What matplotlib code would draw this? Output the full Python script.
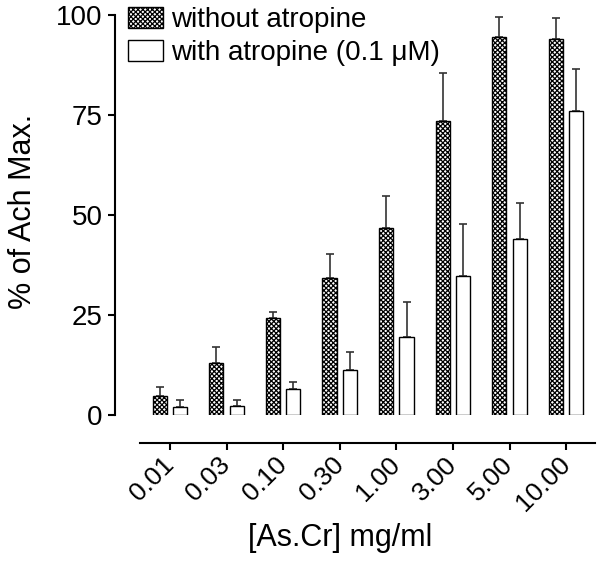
import numpy as np
import matplotlib
matplotlib.use("Agg")
import matplotlib.pyplot as plt

plt.rcParams['font.family'] = ['Liberation Sans', 'DejaVu Sans']
plt.rcParams['hatch.linewidth'] = 0.9

doses = ['0.01', '0.03', '0.10', '0.30', '1.00', '3.00', '5.00', '10.00']
without_atr = [4.8, 13.1, 24.2, 34.2, 46.7, 73.5, 94.4, 94.1]
without_err = [2.3, 3.8, 1.6, 6.0, 8.0, 12.0, 5.1, 5.2]
with_atr = [1.9, 2.2, 6.4, 11.2, 19.4, 34.7, 43.9, 76.0]
with_err = [1.8, 1.5, 1.9, 4.6, 8.8, 13.0, 9.0, 10.6]

fig = plt.figure(figsize=(6, 5.61), dpi=100)
ax = fig.add_axes([0.1917, 0.2602, 0.80, 0.7131])

x = np.arange(len(doses))
w = 0.25
off = 0.18

ax.bar(x - off, without_atr, w, color='white', edgecolor='black', linewidth=1,
       hatch='xxxxxxx', label='without atropine', zorder=2)
ax.errorbar(x - off, without_atr, yerr=[np.zeros(len(doses)), without_err],
            fmt='none', ecolor='#333333', elinewidth=1.2, capsize=3, capthick=1.2, zorder=1)
ax.bar(x + off, with_atr, w, color='white', edgecolor='black', linewidth=1,
       label='with atropine (0.1 \u03bcM)', zorder=2)
ax.errorbar(x + off, with_atr, yerr=[np.zeros(len(doses)), with_err],
            fmt='none', ecolor='#333333', elinewidth=1.2, capsize=3, capthick=1.2, zorder=1)

ax.set_ylim(0, 100)
ax.set_xlim(-0.97, 7.51)
ax.set_yticks([0, 25, 50, 75, 100])
ax.set_xticks(x)
ax.set_xticklabels(doses)

for s in ['top', 'right']:
    ax.spines[s].set_visible(False)
ax.spines['left'].set_bounds(0, 100)
ax.spines['left'].set_linewidth(1.5)
ax.spines['bottom'].set_position(('outward', 20))
ax.spines['bottom'].set_bounds(-0.53, 7.51)
ax.spines['bottom'].set_linewidth(1.5)
ax.tick_params(axis='both', direction='out', length=5, width=1.5, labelsize=19)
ax.tick_params(axis='x', pad=8)
ax.tick_params(axis='y', pad=4, labelsize=20)
plt.setp(ax.get_xticklabels(), rotation=45, ha='right', va='center', rotation_mode='anchor')

ax.set_ylabel('% of Ach Max.', fontsize=22)
ax.yaxis.set_label_coords(-0.16, 0.51)
ax.set_xlabel('[As.Cr] mg/ml', fontsize=22)
ax.xaxis.set_label_coords(0.47, -0.27)

ax.legend(loc='upper left', bbox_to_anchor=(0.027, 1.02), frameon=False, fontsize=20,
          handlelength=1.25, handleheight=0.8, handletextpad=0.3, labelspacing=0.25,
          borderaxespad=0, borderpad=0)

fig.savefig('out.png', dpi=100)
